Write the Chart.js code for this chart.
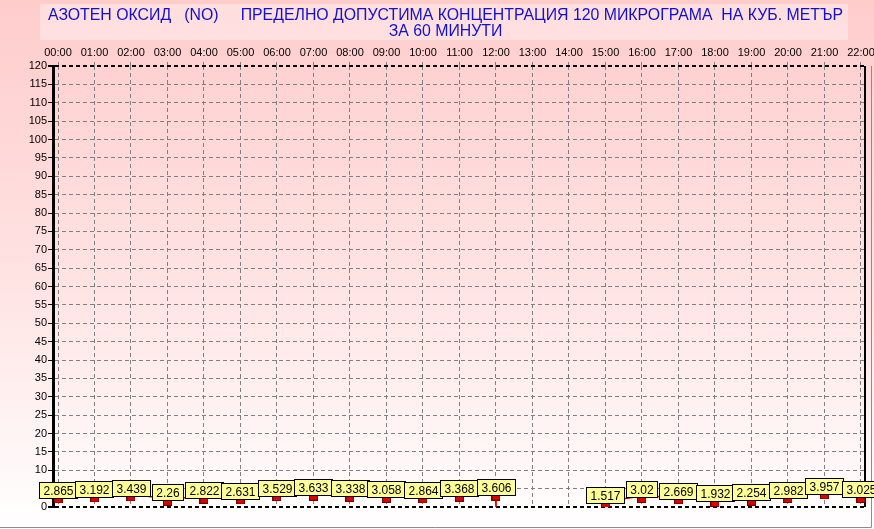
<!DOCTYPE html>
<html>
<head>
<meta charset="utf-8">
<script src="https://cdn.jsdelivr.net/npm/chart.js@4.4.1/dist/chart.umd.min.js"></script>
<style>
  html, body { margin: 0; padding: 0; background: #fff; }
  canvas { display: block; }
</style>
</head>
<body>
<canvas id="myChart" width="874" height="529"></canvas>
<script>
const titleLine1 = 'АЗОТЕН ОКСИД   (NO)     ПРЕДЕЛНО ДОПУСТИМА КОНЦЕНТРАЦИЯ 120 МИКРОГРАМА  НА КУБ. МЕТЪР';
const titleLine2 = 'ЗА 60 МИНУТИ';

const hourLabels = [
    '00:00', '01:00', '02:00', '03:00', '04:00', '05:00', '06:00', '07:00',
    '08:00', '09:00', '10:00', '11:00', '12:00', '13:00', '14:00', '15:00',
    '16:00', '17:00', '18:00', '19:00', '20:00', '21:00', '22:00',
];
const hours = [0, 1, 2, 3, 4, 5, 6, 7, 8, 9, 10, 11, 12, 13, 14, 15, 16, 17, 18, 19, 20, 21, 22];
// no measurement at 13:00 and 14:00
const values = [
    2.865, 3.192, 3.439, 2.26, 2.822, 2.631, 3.529, 3.633, 3.338, 3.058, 2.864, 3.368, 3.606,
    null, null,
    1.517, 3.02, 2.669, 1.932, 2.254, 2.982, 3.957, 3.025,
];
const dropHour = 12;

const ctx = document.querySelector('#myChart').getContext('2d');

// background gradient
let gradient = ctx.createLinearGradient(0, 0, 0, 529);
gradient.addColorStop(0, '#ffcccc');
gradient.addColorStop(0.55, '#ffe4e4');
gradient.addColorStop(1, '#ffffff');

// small red marker under each value
const marker = document.createElement('canvas');
marker.width = 9;
marker.height = 14;
const mctx = marker.getContext('2d');
mctx.fillStyle = '#7a0000';
mctx.fillRect(0, 8, 9, 6);
mctx.fillStyle = '#e00000';
mctx.fillRect(1, 9, 7, 4);

const backdrop = {
    id: 'backdrop',
    beforeDraw(chart) {
        const c = chart.ctx;
        c.save();
        c.fillStyle = gradient;
        c.fillRect(0, 0, chart.width, chart.height);
        // lighter title box
        c.fillStyle = 'rgba(255,255,255,0.35)';
        c.fillRect(40, 4, 808, 36);
        c.fillStyle = '#1010d0';
        c.font = '16px "Liberation Sans", Arial, sans-serif';
        c.textAlign = 'center';
        c.textBaseline = 'alphabetic';
        const sx = 795 / c.measureText(titleLine1).width;
        c.translate(445.5, 20);
        c.scale(sx, 1);
        c.fillText(titleLine1, 0, 0);
        c.fillText(titleLine2, 0, 16);
        c.restore();
    },
    beforeDatasetsDraw(chart) {
        const c = chart.ctx;
        const a = chart.chartArea;
        c.save();
        c.strokeStyle = '#000';
        c.lineWidth = 2;
        c.beginPath();
        c.moveTo(a.right, a.top);
        c.lineTo(a.right, a.bottom);
        c.stroke();
        // outer frame
        c.strokeStyle = '#8c8c8c';
        c.lineWidth = 1;
        c.beginPath();
        c.moveTo(0, 527.5);
        c.lineTo(871.5, 527.5);
        c.lineTo(871.5, a.top);
        c.stroke();
        c.restore();
    }
};

const valueBoxes = {
    id: 'valueBoxes',
    afterDatasetsDraw(chart) {
        const c = chart.ctx;
        const meta = chart.getDatasetMeta(0);
        c.save();
        c.font = '12px "Liberation Sans", Arial, sans-serif';
        c.textAlign = 'center';
        c.textBaseline = 'middle';
        meta.data.forEach((pt, i) => {
            const v = chart.data.datasets[0].data[i].y;
            if (v === null || pt.skip) return;
            const text = String(v);
            const w = Math.round(c.measureText(text).width) + 8;
            const h = 16;
            const x = Math.round(pt.x - w / 2) + 0.5;
            const y = Math.round(pt.y + 1.5 - h) + 0.5;
            c.fillStyle = '#ffff99';
            c.fillRect(x, y, w, h);
            c.strokeStyle = '#000';
            c.lineWidth = 1;
            c.strokeRect(x, y, w, h);
            c.fillStyle = '#000';
            c.fillText(text, x + w / 2, y + h / 2 + 1);
        });
        c.restore();
    }
};

const data = {
    datasets: [{
        data: hours.map((h, i) => ({ x: h, y: values[i] })),
        borderColor: '#c00000',
        borderWidth: 1.5,
        pointStyle: marker,
        pointRadius: 5,
        spanGaps: false,
        tension: 0,
    }, {
        data: [{ x: dropHour, y: values[dropHour] }, { x: dropHour, y: 0 }],
        borderColor: '#e00000',
        borderWidth: 1,
        pointRadius: 0,
    }]
};

const config = {
    type: 'line',
    data: data,
    options: {
        responsive: false,
        animation: false,
        devicePixelRatio: 1,
        layout: { padding: { top: 40, left: 0, right: 9, bottom: 22 } },
        plugins: {
            legend: { display: false },
            tooltip: { enabled: false },
            title: { display: false },
        },
        scales: {
            x: {
                type: 'linear',
                position: 'top',
                min: -0.137,
                max: 22.11,
                afterBuildTicks: (scale) => {
                    scale.ticks = hours.map(h => ({ value: h }));
                },
                afterFit: (scale) => {
                    scale.height = 26;
                    scale.paddingLeft = 0;
                    scale.paddingRight = 0;
                },
                ticks: {
                    autoSkip: false,
                    maxRotation: 0,
                    padding: 2,
                    color: '#000',
                    font: { family: '"Liberation Sans", Arial, sans-serif', size: 11 },
                    callback: (value) => hourLabels[hours.indexOf(value)],
                },
                grid: {
                    color: '#808080',
                    lineWidth: 1,
                    drawTicks: true,
                    tickLength: 4,
                    tickColor: '#808080',
                },
                border: { display: false, dash: [4, 3] },
            },
            y: {
                min: 0,
                max: 120,
                afterFit: (scale) => {
                    scale.width = 53;
                    scale.paddingTop = 0;
                    scale.paddingBottom = 0;
                },
                ticks: {
                    stepSize: 5,
                    padding: 1,
                    color: '#000',
                    font: { family: '"Liberation Sans", Arial, sans-serif', size: 11 },
                },
                grid: {
                    color: (c) => (c.tick && (c.tick.value === 0 || c.tick.value === 120)) ? '#000' : '#808080',
                    lineWidth: (c) => (c.tick && (c.tick.value === 0 || c.tick.value === 120)) ? 2 : 1,
                    tickLength: 5,
                    tickColor: '#000',
                },
                border: { display: true, color: '#000', width: 3, dash: [4, 3] },
            }
        }
    },
    plugins: [backdrop, valueBoxes],
};

const myChart = new Chart(ctx, config);
</script>
</body>
</html>
